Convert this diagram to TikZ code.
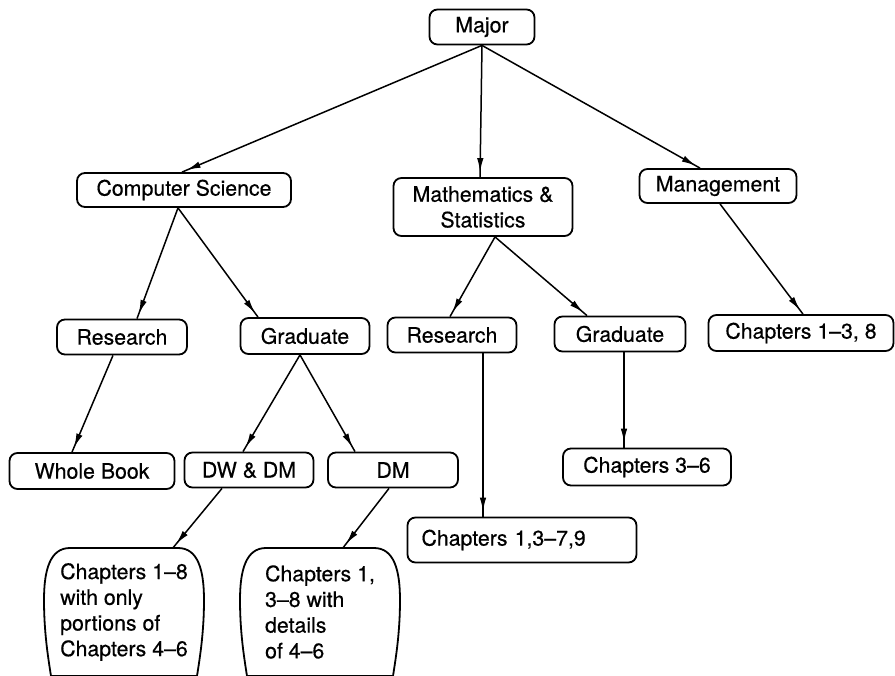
\documentclass[tikz,border=0pt]{standalone}
\usepackage{fontspec}
\setmainfont{TeX Gyre Heros}[FakeBold=0.45]
\usetikzlibrary{arrows.meta,decorations.markings}

\begin{document}
\begin{tikzpicture}[x=1pt,y=-1pt,
  every node/.style={font=\fontsize{21.3pt}{25.7pt}\selectfont},
  box/.style={draw, line width=1.8pt, rounded corners=8pt, inner sep=0pt,
              minimum height=35pt},
  bigbox/.style={draw=none, inner sep=0pt, align=left,
                 minimum width=158pt, minimum height=128pt},
  outline/.style={line width=1.8pt, line join=round},
  conn/.style={line width=1.5pt, postaction={decorate},
    decoration={markings,
      mark=at position -5pt with {\arrow{Latex[length=14pt,width=6.5pt]}}}}
]
\useasboundingbox (0,0) rectangle (895,676);
\clip (0,0) rectangle (895,676);

% level 0
\node[box, minimum width=105pt] (major) at (482,27) {Major};

% level 1
\node[box, minimum width=214pt, minimum height=34pt] (cs) at (184,190) {Computer Science};
\node[box, minimum width=179pt, minimum height=58pt, align=center] (math) at (483,207)
  {Mathematics \&\\Statistics};
\node[box, minimum width=157pt, minimum height=34pt] (mgmt) at (718,186) {Management};

% level 2
\node[box, minimum width=130pt] (res1) at (122,337) {Research};
\node[box, minimum width=129pt, minimum height=36pt] (grad1) at (305,336) {Graduate};
\node[box, minimum width=129pt] (res2) at (452,335) {Research};
\node[box, minimum width=131pt] (grad2) at (620,334) {Graduate};
\node[box, minimum width=185pt, minimum height=36pt] (ch13) at (801,333) {Chapters 1--3, 8};

% level 3
\node[box, minimum width=165pt, minimum height=36pt] (wb) at (92,471) {Whole Book};
\node[box, minimum width=129pt] (dwdm) at (249,470) {DW \& DM};
\node[box, minimum width=130pt] (dm) at (393,470) {DM};
\node[box, minimum width=168pt, minimum height=37pt] (ch36) at (647,467) {Chapters 3--6};
\node[box, minimum height=45pt, text width=201pt, inner xsep=14pt, align=left]
  (ch137) at (522,540) {Chapters 1,3--7,9};

% level 4: tall boxes with bowed sides
\node[bigbox] (b1) at (124,612)
  {Chapters 1--8\\with only\\portions of\\Chapters 4--6};
\node[bigbox] (b2) at (320,612)
  {Chapters 1,\\3--8 with\\details\\of 4--6};
\foreach \b in {b1,b2}{
  \draw[outline, shift={(\b.center)}]
    (-54,-64) -- (54,-64)
    .. controls (74,-64) and (80,-42) .. (80,-12)
    .. controls (80,20) and (76,45) .. (73,64)
    -- (-73,64)
    .. controls (-76,45) and (-80,20) .. (-80,-12)
    .. controls (-80,-42) and (-74,-64) .. (-54,-64) -- cycle;
}

% connectors
\draw[conn] (major.south) -- ([xshift=-2pt]cs.north);
\draw[conn] (major.south) -- ([xshift=-3pt]math.north);
\draw[conn] (major.south) -- ([xshift=-18pt]mgmt.north);

\draw[conn] ([xshift=-6pt]cs.south) -- ([xshift=15pt]res1.north);
\draw[conn] ([xshift=-6pt]cs.south) -- ([xshift=-47pt]grad1.north);
\draw[conn] ([xshift=12pt]math.south) -- ([xshift=-2pt]res2.north);
\draw[conn] ([xshift=12pt]math.south) -- ([xshift=-33pt]grad2.north);
\draw[conn] ([xshift=2pt]mgmt.south) -- ([xshift=2pt]ch13.north);

\draw[conn] ([xshift=-9pt]res1.south) -- ([xshift=-20pt]wb.north);
\draw[conn] ([xshift=-5pt]grad1.south) -- ([xshift=-6pt]dwdm.north);
\draw[conn] ([xshift=-5pt]grad1.south) -- ([xshift=-38pt]dm.north);
\draw[conn] ([xshift=31pt]res2.south) -- ([xshift=-39pt]ch137.north);
\draw[conn] ([xshift=4pt]grad2.south) -- ([xshift=-23pt]ch36.north);

\draw[conn] ([xshift=-27pt]dwdm.south) -- ([xshift=49pt]b1.north);
\draw[conn] ([xshift=-4pt]dm.south) -- ([xshift=23pt]b2.north);
\end{tikzpicture}
\end{document}
